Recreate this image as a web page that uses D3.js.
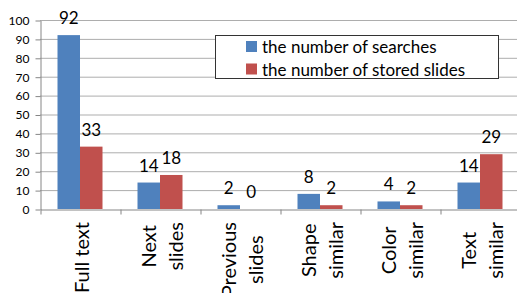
<!DOCTYPE html>
<html>
<head>
<meta charset="utf-8">
<script src="https://cdn.jsdelivr.net/npm/d3@7"></script>
<style>
  body { margin: 0; background: #fff; }
  svg { display: block; font-family: Lato, "Open Sans", sans-serif; }
</style>
</head>
<body>
<script>
// chart values
var categories = ["Full text", "Next slides", "Previous slides", "Shape similar", "Color similar", "Text similar"];
var seriesNames = ["the number of searches", "the number of stored slides"];
var searches = [92, 14, 2, 8, 4, 14];
var storedSlides = [33, 18, 0, 2, 2, 29];
var yTicks = [0, 10, 20, 30, 40, 50, 60, 70, 80, 90, 100];
var colors = ["#4F81BD", "#C0504D"];

var width = 517, height = 293;
var plot = {left: 40, right: 520, top: 20, bottom: 209};

var svg = d3.select("body").append("svg")
    .attr("width", width)
    .attr("height", height);

var rows = categories.map(function(c, i) {
  return {cat: c, values: [searches[i], storedSlides[i]]};
});

var x = d3.scaleBand()
    .domain(categories)
    .range([plot.left, plot.right]);

var xInner = d3.scaleBand()
    .domain([0, 1])
    .range([17.5, 62.5]);

var y = d3.scaleLinear()
    .domain([0, 100])
    .range([plot.bottom, plot.top]);

// gridlines
svg.append("g")
  .selectAll("line")
  .data(yTicks.filter(function(t) { return t > 0; }))
  .enter().append("line")
    .attr("x1", plot.left)
    .attr("x2", width)
    .attr("y1", function(d) { return y(d) + 0.5; })
    .attr("y2", function(d) { return y(d) + 0.5; })
    .attr("stroke", "#adadad")
    .attr("stroke-width", 1);

// y axis
var yAxis = svg.append("g")
    .attr("transform", "translate(" + (plot.left + 0.5) + ",0.5)")
    .call(d3.axisLeft(y).tickValues(yTicks).tickSize(5).tickSizeOuter(0).tickPadding(6));
yAxis.select(".domain").attr("stroke", "#868686");
yAxis.selectAll(".tick line").attr("stroke", "#868686");
yAxis.selectAll(".tick text")
    .attr("font-family", "Lato, sans-serif")
    .attr("font-size", 12)
    .attr("fill", "#000");

// bars
var groups = svg.append("g")
  .selectAll("g")
  .data(rows)
  .enter().append("g")
    .attr("transform", function(d) { return "translate(" + x(d.cat) + ",0)"; });

groups.selectAll("rect")
  .data(function(d) { return d.values; })
  .enter().append("rect")
    .attr("x", function(d, i) { return xInner(i); })
    .attr("width", xInner.bandwidth())
    .attr("y", function(d) { return y(d); })
    .attr("height", function(d) { return plot.bottom - y(d); })
    .attr("fill", function(d, i) { return colors[i]; });

// value labels
groups.selectAll("text")
  .data(function(d) { return d.values; })
  .enter().append("text")
    .attr("x", function(d, i) { return xInner(i) + xInner.bandwidth() / 2; })
    .attr("y", function(d) { return y(d) - 11; })
    .attr("text-anchor", "middle")
    .attr("font-size", 17)
    .attr("fill", "#000")
    .text(function(d) { return d; });

// x axis
var xTickScale = d3.scaleLinear().domain([0, categories.length]).range([plot.left, plot.right]);
var xAxis = svg.append("g")
    .attr("transform", "translate(0.5," + (plot.bottom + 0.5) + ")")
    .call(d3.axisBottom(xTickScale).ticks(categories.length).tickSize(5).tickSizeOuter(0).tickFormat(""));
xAxis.select(".domain").attr("stroke", "#868686");
xAxis.selectAll(".tick line").attr("stroke", "#868686");

// rotated category labels, wrapped one word per line
var labelTop = 222, lineGap = 27;
categories.forEach(function(c) {
  var words = c === "Full text" ? [c] : c.split(" ");
  var g = svg.append("g");
  var texts = words.map(function(w) {
    return g.append("text")
      .attr("text-anchor", "middle")
      .attr("dominant-baseline", "central")
      .attr("font-size", 20)
      .attr("fill", "#000")
      .text(w);
  });
  var maxLen = d3.max(texts, function(t) { return t.node().getComputedTextLength(); });
  var cx = x(c) + x.bandwidth() / 2 + 1;
  texts.forEach(function(t, i) {
    var lx = cx + (i - (words.length - 1) / 2) * lineGap;
    t.attr("transform", "translate(" + lx + "," + (labelTop + maxLen / 2) + ") rotate(-90)");
  });
});

// legend
var legend = svg.append("g");
legend.append("rect")
    .attr("x", 215.5).attr("y", 35.5)
    .attr("width", 283).attr("height", 43)
    .attr("fill", "#fff")
    .attr("stroke", "#333");
seriesNames.forEach(function(name, i) {
  legend.append("rect")
    .attr("x", 246).attr("y", 41 + i * 22.5)
    .attr("width", 11).attr("height", 11)
    .attr("fill", colors[i]);
  legend.append("text")
    .attr("x", 262).attr("y", 46.5 + i * 22.5)
    .attr("dominant-baseline", "central")
    .attr("font-size", 17)
    .attr("fill", "#000")
    .text(name);
});
</script>
</body>
</html>
